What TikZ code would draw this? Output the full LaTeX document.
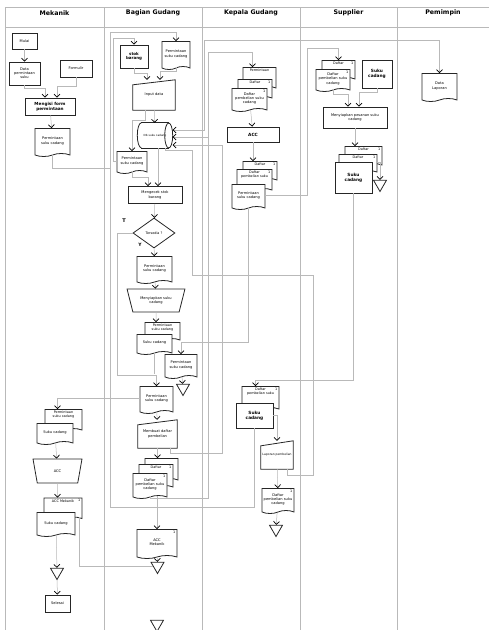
\documentclass[tikz,border=0pt]{standalone}
\usepackage{fontspec}
\setmainfont{DejaVu Sans}
\usetikzlibrary{shapes.geometric, shapes.symbols, arrows.meta, positioning, calc}
\newcommand{\maninput}[1]{\draw[outl] (#1.south west) -- ([yshift=-5pt]#1.north west) -- (#1.north east) -- (#1.south east) -- cycle;}

\begin{document}
\begin{tikzpicture}[x=1pt, y=-1pt,
  outl/.style={draw=black!85, line width=0.8pt},
  box/.style={rectangle, outl, fill=white, inner sep=1pt, align=center,
              font=\fontsize{3.6}{4.2}\selectfont},
  bbox/.style={box, font=\fontsize{4.3}{5.2}\selectfont\bfseries},
  doc/.style={tape, tape bend top=none, tape bend height=3pt, outl, fill=white,
              inner sep=1pt, align=center, font=\fontsize{3.6}{4.2}\selectfont},
  backdoc/.style={doc, label={[lbl, anchor=north, yshift=-1.5pt]north:#1}},
  pgone/.style={label={[lbl, anchor=north east, xshift=-1.5pt, yshift=-1pt]north east:1}},
  lbl/.style={inner sep=0.5pt, align=center, font=\fontsize{3.4}{4}\selectfont},
  minput/.style={rectangle, draw=none, inner sep=1pt, align=center,
              font=\fontsize{3.6}{4.2}\selectfont},
  manop/.style={trapezium, shape border rotate=180, trapezium stretches=true, outl,
              fill=white, inner sep=0pt, align=center, font=\fontsize{3.6}{4.2}\selectfont},
  db/.style={rectangle, draw=none, inner sep=0pt, font=\fontsize{2.8}{3.4}\selectfont},
  decide/.style={diamond, outl, fill=white, inner sep=0pt, font=\fontsize{3.4}{4}\selectfont},
  merge/.style={regular polygon, regular polygon sides=3, shape border rotate=180, outl,
              fill=white, inner sep=0pt, minimum size=15pt},
  lane/.style={draw=gray!55, line width=0.6pt},
  conn/.style={draw=gray!55, line width=0.5pt},
  arr/.style={conn, -{Straight Barb[length=3pt, width=6pt, color=black, line width=0.7pt]}},
  arr2/.style={conn, {Straight Barb[length=3pt, width=6pt, color=black, line width=0.7pt]}-{Straight Barb[length=3pt, width=6pt, color=black, line width=0.7pt]}},
  head/.style={font=\fontsize{6.3}{7.5}\selectfont\bfseries}
]
\useasboundingbox (0,0) rectangle (489,630);

% Lanes
\draw[lane] (5,7) -- (489,7);
\draw[lane] (5,27) -- (489,27);
\foreach \x in {5,104,202,300,397} \draw[lane] (\x,7) -- (\x,630);
\node[head] (hmek) at (54.5,13) {Mekanik};
\node[head] (hbg) at (153,13) {Bagian Gudang};
\node[head] (hkg) at (251,13) {Kepala Gudang};
\node[head] (hsp) at (348.5,13) {Supplier};
\node[head] (hpm) at (443,13) {Pemimpin};

% Mekanik
\node[box, minimum width=25pt, minimum height=16pt] (mulai) at (24.5,41) {Mulai};
\node[box, minimum width=31pt, minimum height=23pt] (datmin) at (24.5,73.5) {Data\\permintaan\\suku};
\node[box, minimum width=32pt, minimum height=17pt] (formulir) at (76,68.5) {Formulir};
\node[box, minimum width=50pt, minimum height=17pt, font=\fontsize{4.2}{5}\selectfont\bfseries] (mengisi) at (50,106.5) {Mengisi form\\permintaan};
\node[doc, minimum width=35pt, minimum height=28pt] (pmk) at (52.5,141) {Permintaan\\suku cadang};
\node[backdoc={Permintaan\\suku cadang}, minimum width=37pt, minimum height=22pt] (pmk2) at (63.5,419) {};
\node[doc, minimum width=36pt, minimum height=21pt] (sck) at (55,432.5) {Suku cadang};
\node[manop, trapezium left angle=74, trapezium right angle=74, minimum width=49pt, minimum height=24pt] (accm) at (57.5,471) {ACC};
\node[backdoc=ACC Mekanik, pgone, minimum width=38pt, minimum height=22pt] (acm1) at (63,507.5) {};
\node[doc, minimum width=38pt, minimum height=24pt] (sck2) at (56,523) {Suku cadang};
\node[merge] (mtri) at (57,572) {};
\node[box, minimum width=25pt, minimum height=17pt] (selesai) at (57.5,603.5) {Selesai};

% Bagian Gudang
\node[box, minimum width=28pt, minimum height=23pt, font=\fontsize{4}{4.8}\selectfont\bfseries] (stok) at (134,56.5) {stok\\barang};
\node[doc, minimum width=28pt, minimum height=28pt] (pbg1) at (176,54) {Permintaan\\suku cadang};
\node[minput, minimum width=42pt, minimum height=30pt] (inp) at (154,95) {Input data};
\maninput{inp}
\node[db, minimum width=35pt, minimum height=25pt] (cyl) at (155,135.5) {Db suku cadang};
\draw[outl] ([xshift=4pt]cyl.north west) -- ([xshift=-4pt]cyl.north east);
\draw[outl] ([xshift=4pt]cyl.south west) -- ([xshift=-4pt]cyl.south east);
\draw[outl] ([xshift=-4pt]cyl.east) ellipse[x radius=4pt, y radius=12.5pt];
\draw[outl] ([xshift=4pt]cyl.north west) arc[start angle=90, end angle=270, x radius=4pt, y radius=12.5pt];
\node[doc, minimum width=30pt, minimum height=22pt] (psmall) at (132,161) {Permintaan\\suku cadang};
\node[box, minimum width=54pt, minimum height=17pt] (cek) at (155,195) {Mengecek stok\\barang};
\node[decide, minimum width=42pt, minimum height=30pt] (tsd) at (154,233) {Tersedia ?};
\node[lbl, font=\fontsize{5}{6}\selectfont\bfseries] (lt) at (124,221) {T};
\node[lbl, font=\fontsize{4.5}{5}\selectfont\bfseries] (ly) at (140,245) {Y};
\node[doc, minimum width=35pt, minimum height=27pt] (pbg2) at (154.5,268.5) {Permintaan\\suku cadang};
\node[manop, trapezium left angle=63, trapezium right angle=63, minimum width=58pt, minimum height=23pt] (msc) at (156,300.5) {Menyiapkan suku\\cadang};
\node[backdoc={Permintaan\\suku cadang}, minimum width=35pt, minimum height=19pt] (pbk1) at (162.5,330.5) {};
\node[doc, minimum width=35pt, minimum height=20pt] (sc1) at (154.5,343) {Suku cadang};
\node[doc, minimum width=32pt, minimum height=24pt] (pbg3) at (181,365) {Permintaan\\suku cadang};
\node[merge] (tri1) at (183,388) {};
\node[doc, minimum width=33pt, minimum height=27pt] (pgd2) at (156.5,398.5) {Permintaan\\suku cadang};
\node[minput, minimum width=39pt, minimum height=28pt] (mbd) at (157.5,434) {Membuat daftar\\pembelian};
\maninput{mbd}
\node[doc, minimum width=33pt, minimum height=23pt] (dft1) at (161.5,468.5) {};
\node[backdoc=Daftar, pgone, minimum width=34pt, minimum height=24pt] (dft2) at (156,475) {};
\node[doc, pgone, minimum width=34pt, minimum height=25pt] (dft3) at (150,484.5) {Daftar\\pembelian suku\\cadang};
\node[doc, pgone, minimum width=40pt, minimum height=29pt] (accmg) at (157,542.5) {ACC\\Mekanik};
\node[merge] (tri2) at (157.5,566) {};
\node[merge] (tri3) at (157,624) {};

% Kepala Gudang
\node[backdoc=Permintaan, minimum width=33pt, minimum height=22pt] (kg1a) at (259.5,77) {};
\node[backdoc=Daftar, pgone, minimum width=34pt, minimum height=20pt] (kg1b) at (255,88) {};
\node[doc, pgone, minimum width=35pt, minimum height=23pt] (kg1c) at (249.5,98.5) {Daftar\\pembelian suku\\cadang};
\node[bbox, minimum width=52pt, minimum height=15pt] (acc) at (253,134.5) {ACC};
\node[backdoc=Daftar, pgone, minimum width=34pt, minimum height=20pt] (kg2a) at (260,170) {};
\node[backdoc={Daftar\\pembelian suku}, pgone, minimum width=35pt, minimum height=22pt] (kg2b) at (254.5,179) {};
\node[doc, minimum width=33pt, minimum height=25pt] (kg2c) at (248.5,195.5) {Permintaan\\suku cadang};
\node[backdoc={Daftar\\pembelian suku}, pgone, minimum width=37pt, minimum height=24pt] (kg3a) at (260.5,397) {};
\node[bbox, minimum width=37pt, minimum height=25pt] (kg3b) at (254.5,415.5) {Suku\\cadang};
\node[minput, minimum width=32pt, minimum height=28pt, font=\fontsize{3}{3.6}\selectfont] (lap) at (277,455) {Laporan pembelian};
\maninput{lap}
\node[doc, pgone, minimum width=32pt, minimum height=25pt] (dfk) at (278,499.5) {Daftar\\pembelian suku\\cadang};
\node[merge] (kgtri) at (276,529) {};

% Supplier
\node[backdoc=Daftar, pgone, minimum width=33pt, minimum height=20pt] (sp1a) at (338.5,69) {};
\node[doc, pgone, minimum width=34pt, minimum height=22pt] (sp1b) at (333,79) {Daftar\\pembelian suku\\cadang};
\node[bbox, minimum width=30pt, minimum height=28pt] (spsc) at (377,74) {Suku\\cadang};
\node[box, minimum width=64pt, minimum height=21pt] (msp) at (355,117.5) {Menyiapkan pesanan suku\\cadang};
\node[backdoc=Daftar, pgone, minimum width=37pt, minimum height=20pt] (sp2a) at (363.5,155) {};
\node[backdoc=Daftar, pgone, minimum width=38pt, minimum height=19pt] (sp2b) at (358,162.5) {};
\node[bbox, minimum width=37pt, minimum height=31pt] (sp2c) at (353.5,177.5) {Suku\\cadang};
\node[merge] (sptri) at (380,184) {};

% Pemimpin
\node[doc, minimum width=35pt, minimum height=28pt] (datlap) at (439.5,86) {Data\\Laporan};

% Connectors Mekanik
\draw[arr] (mulai) -- (datmin);
\draw[arr] (datmin.south) -- ++(0,3) -| ([xshift=-5pt]mengisi.north);
\draw[arr] (formulir.south) -- ++(0,9) -| ([xshift=7pt]mengisi.north);
\draw[arr] (mengisi) -- (pmk);
\draw[arr] (pmk.south) |- (110,168) -- (110,32) -| (pbg1.north);
\draw[arr] (sck) -- (accm);
\draw[arr] (accm) -- (accm |- acm1.north);
\draw[arr] (sck2) -- (mtri);
\draw[arr] (mtri) -- (selesai);
\draw[conn] ([xshift=-3pt]acm1.south east) |- (tri2.west);

% Connectors Bagian Gudang
\draw[arr] (psmall.west) -| (113,38) -| (stok.north);
\draw[arr] (stok.south) -- ++(0,5) -| ([xshift=-7pt]inp.north);
\draw[arr] (pbg1.south) -- ++(0,4) -| ([xshift=6pt]inp.north);
\draw[arr] (inp) -- (cyl);
\draw[arr] ([xshift=-9pt]inp.south) -- ++(0,10) -| (psmall.north);
\draw[arr] (psmall.south) -- ++(0,6) -| ([xshift=-7pt]cek.north);
\draw[arr] ([xshift=3pt]cyl.south) -- ([xshift=3pt]cek.north);
\draw[arr] (cek) -- (tsd);
\draw[arr] (tsd) -- (pbg2);
\draw[arr] (tsd.west) -| (117,375) -| (pgd2.north);
\draw[arr] (pbg2) -- (msc);
\draw[arr] (msc) -- (msc |- pbk1.north);
\draw[conn] (sc1.south) -- ++(0,22);
\draw[arr] (pbg3) -- (tri1);
\draw[arr] (pgd2.west) -| ([xshift=-6pt]pmk2.north);
\draw[arr] (pgd2) -- (mbd);
\draw[arr] (mbd) -- (mbd |- dft1.north);
\draw[arr] ([xshift=7pt]dft3.south) -- (accmg.north);
\draw[arr] (accmg) -- (tri2);
\draw[arr] ([xshift=13pt]mbd.south) -- ++(0,5) -| (222,145) -- (cyl.east |- 222,145);
\draw[arr2] (cyl.east |- 0,130) -- (204,130) -- (204,40) -| (datlap.north);
\draw[arr2] (cyl.east |- 0,137) -- (208,137) -- (208,52) -| ([xshift=-7pt]kg1a.north);
\draw[conn] (dft3.south) -- ++(0,2) -| (208,137);
\draw[conn] ([xshift=10pt]cyl.south) |- (192,150) |- (313,275) -- (313,475) -| ([xshift=10pt]lap.south);

% Connectors Kepala Gudang
\draw[arr] (kg1c) -- (acc);
\draw[arr] (acc) -- (acc |- kg2a.north);
\draw[arr] (kg2c.south) -- ++(0,135) -| (pbg3.north);
\draw[arr] (kg2c.east) -| (307,48) -| (sp1a.north);
\draw[arr] (kg3b) -| (lap.north);
\draw[conn] (kg3b.south) |- (110,507) -- (110,168);
\draw[arr] (lap) -- (dfk);
\draw[arr] (dfk) -- (kgtri);

% Connectors Supplier
\draw[arr] (sp1b.south) -- ++(0,5) -| ([xshift=-7pt]msp.north);
\draw[arr] (spsc.south) -- ++(0,4) -| ([xshift=4pt]msp.north);
\draw[arr] (msp) -- (msp |- sp2a.north);
\draw[arr] (sp2b.east) -| (sptri);
\draw[arr] (sp2c.south) -- ++(0,187) -| ([xshift=-5pt]kg3a.north);
\end{tikzpicture}
\end{document}
